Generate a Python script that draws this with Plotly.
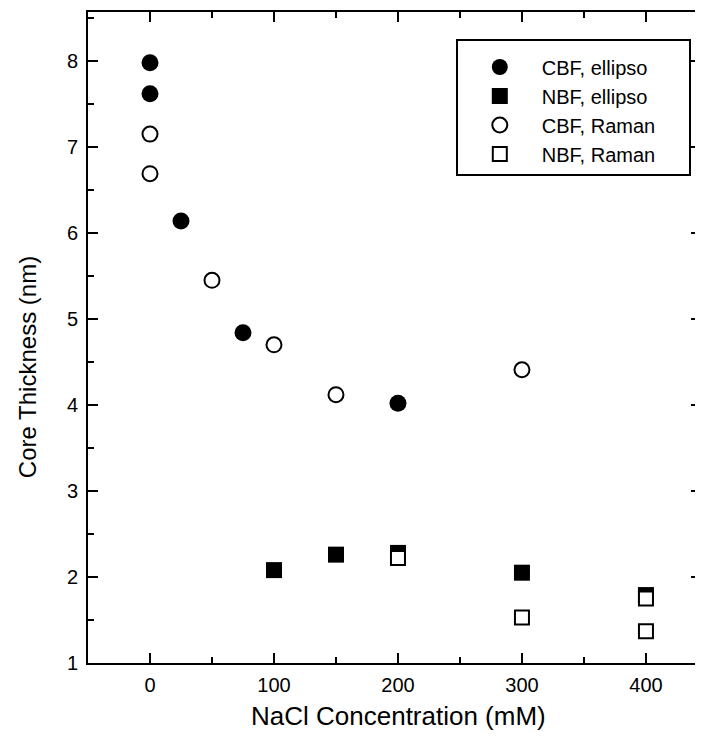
import plotly.graph_objects as go

# Data
cbf_ellipso_x = [0, 0, 25, 75, 200]
cbf_ellipso_y = [7.98, 7.62, 6.14, 4.84, 4.02]

nbf_ellipso_x = [100, 150, 200, 300, 400]
nbf_ellipso_y = [2.08, 2.26, 2.28, 2.05, 1.79]

cbf_raman_x = [0, 0, 50, 100, 150, 300]
cbf_raman_y = [7.15, 6.69, 5.45, 4.70, 4.12, 4.41]

nbf_raman_x = [200, 300, 400, 400]
nbf_raman_y = [2.22, 1.53, 1.75, 1.37]

x_ticks = [0, 100, 200, 300, 400]
x_minor = [-50, 50, 150, 250, 350, 450]
y_ticks = [1, 2, 3, 4, 5, 6, 7, 8]
y_minor = [1.5, 2.5, 3.5, 4.5, 5.5, 6.5, 7.5, 8.5]

PAD = "\u00a0" * 5
FONT = "Liberation Sans, Arial, Helvetica, sans-serif"

fig = go.Figure()
fig.add_trace(go.Scatter(x=cbf_ellipso_x, y=cbf_ellipso_y, mode="markers", name="CBF, ellipso" + PAD,
                         marker=dict(symbol="circle", size=17, color="black", line=dict(width=0))))
fig.add_trace(go.Scatter(x=nbf_ellipso_x, y=nbf_ellipso_y, mode="markers", name="NBF, ellipso" + PAD,
                         marker=dict(symbol="square", size=16, color="black", line=dict(width=0))))
fig.add_trace(go.Scatter(x=cbf_raman_x, y=cbf_raman_y, mode="markers", name="CBF, Raman" + PAD,
                         marker=dict(symbol="circle", size=15, color="white", line=dict(width=2, color="black"))))
fig.add_trace(go.Scatter(x=nbf_raman_x, y=nbf_raman_y, mode="markers", name="NBF, Raman" + PAD,
                         marker=dict(symbol="square", size=14, color="white", line=dict(width=2, color="black"))))

axis_common = dict(showline=True, linewidth=2, linecolor="black", mirror="ticks",
                   ticks="inside", ticklen=10, tickwidth=2, tickcolor="black",
                   showgrid=False, zeroline=False,
                   tickfont=dict(family=FONT, size=20, color="black"))

fig.update_xaxes(range=[-50, 444.4], tickvals=x_ticks, ticklabelstandoff=3,
                 minor=dict(ticks="inside", ticklen=6, tickwidth=2, tickcolor="black", tickvals=x_minor),
                 **axis_common)
fig.update_yaxes(range=[1, 8.57], tickvals=y_ticks, ticklabelstandoff=4,
                 minor=dict(ticks="inside", ticklen=6, tickwidth=2, tickcolor="black", tickvals=y_minor),
                 **axis_common)

fig.add_annotation(text="NaCl Concentration (mM)", xref="paper", yref="paper",
                   x=0.507, y=-0.0814, xanchor="center", yanchor="middle", showarrow=False,
                   font=dict(family=FONT, size=26, color="black"))
fig.add_annotation(text="Core Thickness (nm)", xref="paper", yref="paper", textangle=-90,
                   x=-0.0976, y=0.4547, xanchor="center", yanchor="middle", showarrow=False,
                   font=dict(family=FONT, size=24, color="black"))

fig.update_layout(
    width=695, height=733,
    margin=dict(l=80, r=0, t=4, b=78),
    paper_bgcolor="white", plot_bgcolor="white",
    font=dict(family=FONT, color="black"),
    showlegend=True,
    legend=dict(x=0.6, y=0.9585, xanchor="left", yanchor="top",
                bordercolor="black", borderwidth=2, bgcolor="white",
                font=dict(family=FONT, size=20, color="black"),
                title=dict(text="\u00a0", font=dict(size=5)),
                itemwidth=74, itemsizing="trace"),
)

fig.write_html("out.html")
